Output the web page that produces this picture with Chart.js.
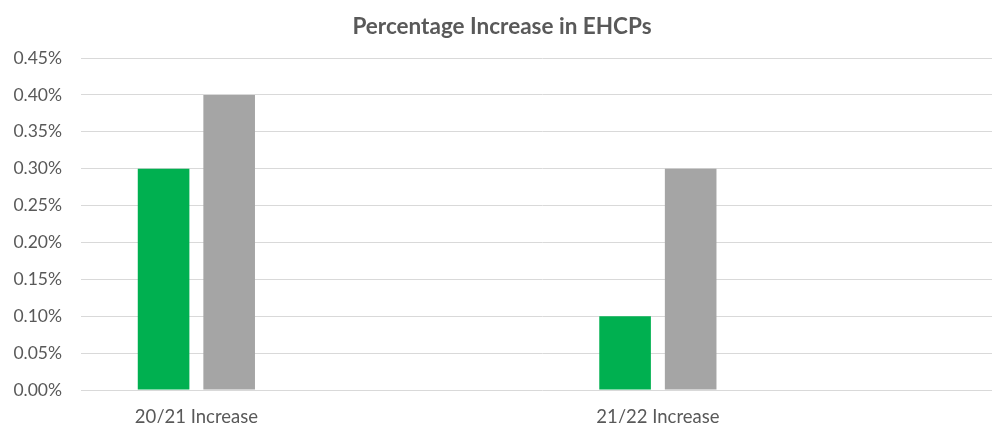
<!DOCTYPE html>
<html lang="en">
<head>
    <meta charset="UTF-8">
    <title>Percentage Increase in EHCPs</title>
    <script src="https://cdn.jsdelivr.net/npm/chart.js"></script>
    <style>
        html, body {
            margin: 0;
            padding: 0;
            background: #ffffff;
            overflow: hidden;
        }
        .wrap {
            width: 992px;
            height: 423px;
            overflow: hidden;
        }
        canvas {
            display: block;
        }
    </style>
</head>
<body>
    <div class="wrap">
        <canvas id="ehcpChart" width="1010" height="423"></canvas>
    </div>

    <script>
        // categories (empty slots kept as in the original sheet)
        const categories = ['20/21 Increase', '', '21/22 Increase', ''];
        // values in %
        const seriesGreen = [0.30, null, 0.10, null];
        const seriesGrey = [0.40, null, 0.30, null];
        const yMin = 0;
        const yMax = 0.45;
        const yStep = 0.05;

        const textColor = '#595959';
        const gridColor = '#d9d9d9';

        const config = {
            type: 'bar',
            data: {
                labels: categories,
                datasets: [
                    {
                        label: 'Series 1',
                        data: seriesGreen,
                        backgroundColor: '#00b050',
                        borderWidth: 0,
                        barPercentage: 0.787,
                        categoryPercentage: 0.5685
                    },
                    {
                        label: 'Series 2',
                        data: seriesGrey,
                        backgroundColor: '#a5a5a5',
                        borderWidth: 0,
                        barPercentage: 0.787,
                        categoryPercentage: 0.5685
                    }
                ]
            },
            options: {
                responsive: false,
                animation: false,
                layout: {
                    padding: { left: 0, right: 6, top: 0, bottom: 0 }
                },
                plugins: {
                    legend: { display: false },
                    tooltip: { enabled: false },
                    title: {
                        display: true,
                        text: 'Percentage Increase in EHCPs',
                        color: textColor,
                        font: { family: 'Lato', size: 22.5, weight: 'bold' },
                        padding: { top: 13, bottom: 18 }
                    }
                },
                scales: {
                    x: {
                        grid: { display: false },
                        border: { display: false },
                        ticks: {
                            color: textColor,
                            font: { family: 'Lato', size: 18.5 },
                            padding: 8,
                            maxRotation: 0,
                            autoSkip: false
                        },
                        afterFit: (scale) => { scale.height = 33; }
                    },
                    y: {
                        min: yMin,
                        max: yMax,
                        grid: {
                            color: gridColor,
                            lineWidth: 1,
                            drawTicks: false
                        },
                        border: { display: false },
                        ticks: {
                            stepSize: yStep,
                            color: textColor,
                            font: { family: 'Lato', size: 17.5 },
                            padding: 19,
                            callback: (value) => value.toFixed(2) + '%'
                        },
                        afterFit: (scale) => { scale.width = 81; }
                    }
                }
            }
        };

        new Chart(document.getElementById('ehcpChart'), config);
    </script>
</body>
</html>
